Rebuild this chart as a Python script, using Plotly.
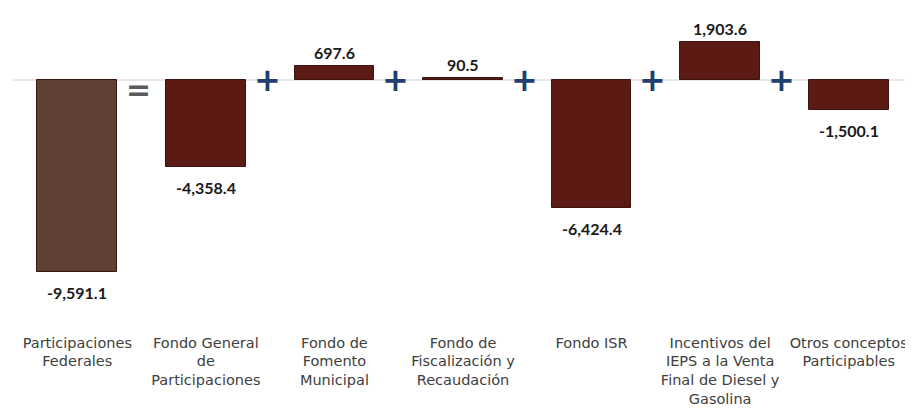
import plotly.graph_objects as go

categories = [
    "Participaciones<br>Federales",
    "Fondo General<br>de<br>Participaciones",
    "Fondo de<br>Fomento<br>Municipal",
    "Fondo de<br>Fiscalización y<br>Recaudación",
    "Fondo ISR",
    "Incentivos del<br>IEPS a la Venta<br>Final de Diesel y<br>Gasolina",
    "Otros conceptos<br>Participables",
]
values = [-9591.1, -4358.4, 697.6, 90.5, -6424.4, 1903.6, -1500.1]
operators = ["=", "+", "+", "+", "+", "+"]
bar_colors = ["#5E4035", "#5B1B14", "#5B1B14", "#5B1B14", "#5B1B14", "#5B1B14", "#5B1B14"]

x_idx = list(range(len(categories)))

fig = go.Figure()
fig.add_trace(go.Bar(
    x=x_idx, y=values,
    marker=dict(color=bar_colors, line=dict(color="#3a1510", width=1)),
    width=0.62,
    hoverinfo="skip",
))

annotations = []
for i, v in enumerate(values):
    txt = f"{v:,.1f}"
    if v < 0:
        annotations.append(dict(x=i, y=v, text=txt, showarrow=False, yanchor="top",
                                yshift=-9, font=dict(family="Lato", size=16, color="#1a1a1a", weight="bold")))
    else:
        annotations.append(dict(x=i, y=v, text=txt, showarrow=False, yanchor="bottom",
                                yshift=2, font=dict(family="Lato", size=16, color="#1a1a1a", weight="bold")))

for i, op in enumerate(operators):
    col = "#5a5a5a" if op == "=" else "#1F3F6E"
    annotations.append(dict(x=i + 0.5, y=0 if op == "+" else -450, text=f"<b>{op}</b>", showarrow=False,
                            xshift=-3,
                            font=dict(family="DejaVu Sans", size=32 if op == "+" else 30, color=col)))

fig.update_layout(
    width=905, height=411,
    margin=dict(l=5, r=0, t=4, b=92, autoexpand=False),
    plot_bgcolor="white", paper_bgcolor="white",
    showlegend=False,
    bargap=0,
    annotations=annotations,
    shapes=[dict(type="line", xref="paper", yref="y", x0=0, x1=1, y0=0, y1=0,
                 line=dict(color="#d0d0d0", width=1), layer="below")],
)
fig.update_xaxes(
    tickmode="array", tickvals=x_idx, ticktext=categories,
    range=[-0.5, 6.5], showgrid=False, zeroline=False, showline=False, ticks="",
    tickfont=dict(family="DejaVu Sans", size=14.5, color="#404040"),
    ticklabelstandoff=5,
    fixedrange=True, automargin=False,
)
fig.update_yaxes(
    range=[-12350, 3400], visible=False, showgrid=False, zeroline=False, fixedrange=True,
    automargin=False,
)

fig.write_html("out.html")
